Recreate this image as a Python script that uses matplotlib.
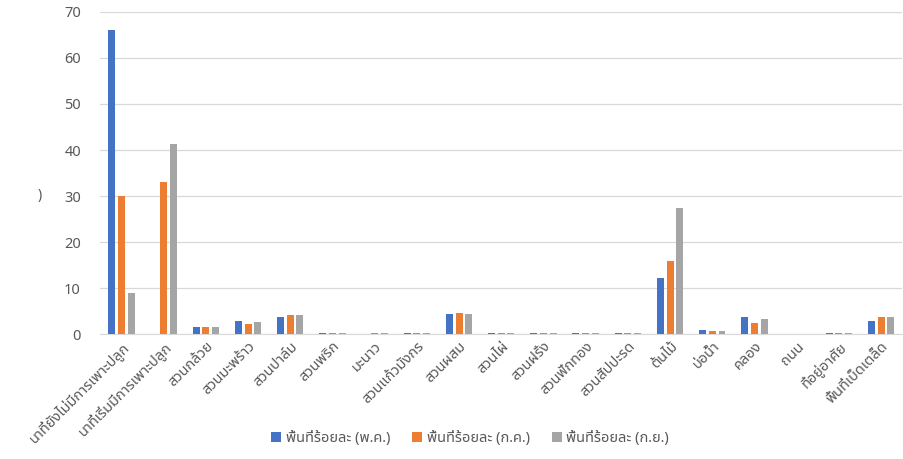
import numpy as np
import matplotlib.pyplot as plt

categories = ['นาที่ยังไม่มีการเพาะปลูก', 'นาที่เริ่มมีการเพาะปลูก', 'สวนกล้วย', 'สวนมะพร้าว',
              'สวนปาล์ม', 'สวนพริก', 'มะนาว', 'สวนแก้วมังกร', 'สวนผสม', 'สวนไผ่', 'สวนฝรั่ง',
              'สวนฟักทอง', 'สวนสัปปะรด', 'ต้นไม้', 'บ่อน้ำ', 'คลอง', 'ถนน', 'ที่อยู่อาศัย',
              'พื้นที่เบ็ดเตล็ด']
may = [66.1, 0, 1.6, 2.9, 3.7, 0.3, 0, 0.3, 4.4, 0.3, 0.3, 0.3, 0.3, 12.1, 0.8, 3.7, 0, 0.3, 2.9]
jul = [30.1, 33.0, 1.6, 2.1, 4.2, 0.3, 0.3, 0.3, 4.7, 0.3, 0.3, 0.3, 0.3, 16.0, 0.6, 2.4, 0, 0.3, 3.7]
sep = [9.0, 41.3, 1.6, 2.6, 4.2, 0.3, 0.3, 0.3, 4.4, 0.3, 0.3, 0.3, 0.3, 27.5, 0.6, 3.4, 0, 0.3, 3.7]
series_names = ['พื้นที่ร้อยละ (พ.ค.)', 'พื้นที่ร้อยละ (ก.ค.)', 'พื้นที่ร้อยละ (ก.ย.)']
colors = ['#4472C4', '#ED7D31', '#A5A5A5']

plt.rcParams['font.family'] = ['Noto Sans Thai', 'Tahoma', 'Leelawadee UI', 'DejaVu Sans']

fig = plt.figure(figsize=(9.04, 4.59), dpi=100)
ax = fig.add_axes([0.111, 0.272, 0.887, 0.702])

x = np.arange(len(categories))
w = 0.165
pitch = 0.23
for i, (vals, name) in enumerate(zip([may, jul, sep], series_names)):
    ax.bar(x + (i - 1) * pitch, vals, w, color=colors[i], label=name, zorder=3)

ax.set_xlim(-0.5, len(categories) - 0.5)
ax.set_ylim(0, 70)
ax.set_yticks(np.arange(0, 71, 10))
ax.grid(axis='y', color='#D9D9D9', linewidth=0.9, zorder=0)
for s in ['top', 'right', 'left']:
    ax.spines[s].set_visible(False)
ax.spines['bottom'].set_color('#D9D9D9')
ax.tick_params(axis='both', length=0, colors='#595959', labelsize=10.5)
ax.tick_params(axis='y', pad=14)
ax.set_xticks(x)
ax.set_xticklabels(categories, rotation=45, ha='right', rotation_mode='anchor')

# fragment of the cut-off y axis title
fig.text(0.044, 0.575, ')', color='#595959', fontsize=10, ha='center', va='center')

fig.legend(loc='lower center', bbox_to_anchor=(0.52, 0.0), ncol=3, frameon=False,
           fontsize=10.5, handlelength=0.7, handleheight=0.7, columnspacing=1.5,
           handletextpad=0.3, labelcolor='#595959')

fig.savefig('out.png', dpi=100)
